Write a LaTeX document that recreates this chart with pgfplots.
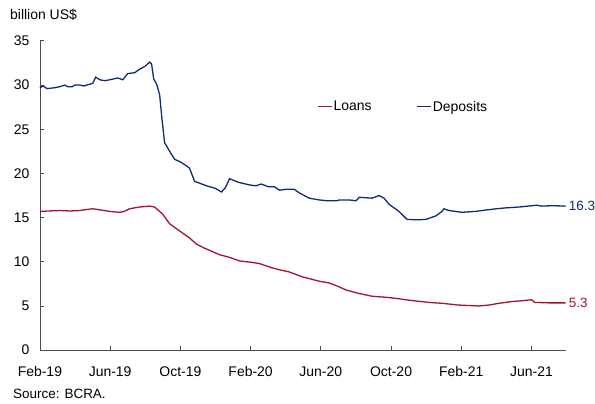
\documentclass[border=0pt]{standalone}
\usepackage{pgfplots}
\pgfplotsset{compat=1.18}
\usepackage{fontspec}
\setmainfont{Liberation Sans}
\definecolor{navy}{HTML}{0F2D6E}
\definecolor{crim}{HTML}{A3142F}
\begin{document}
\begin{tikzpicture}
\begin{axis}[
  scale only axis, width=527pt, height=310pt,
  xmin=0, xmax=29.94, ymin=0, ymax=35,
  clip=false,
  axis x line=bottom, axis y line=left,
  axis line style={-, draw=black!70, line width=0.8pt},
  tick align=inside, major tick length=4pt,
  tick style={draw=black!70, line width=0.8pt},
  xtick={0,4,...,28},
  xticklabels={Feb-19,Jun-19,Oct-19,Feb-20,Jun-20,Oct-20,Feb-21,Jun-21},
  ytick={0,5,...,35},
  ticklabel style={font=\fontsize{14}{16}\selectfont},
  xticklabel style={yshift=-13pt},
  yticklabel style={xshift=-7pt},
  /pgf/number format/assume math mode=true,
  legend columns=2,
  legend style={at={(rel axis cs:0.5275,0.787)}, anchor=west, draw=none, fill=none,
    font=\fontsize{14}{16}\selectfont, inner sep=0pt,
    nodes={inner xsep=1pt},
    /tikz/every even column/.append style={column sep=44pt}},
  legend image code/.code={\draw[#1] (0pt,0pt) -- (14pt,0pt);},
]
\addplot[crim, line width=1.3pt] coordinates {
(0,15.7) (0.5,15.75) (1.14,15.8) (1.7,15.75) (2.27,15.8) (2.6,15.9) (3.01,16.0) (3.5,15.85) (3.98,15.7) (4.55,15.6) (4.8,15.7) (5.11,16.0) (5.68,16.2) (6.25,16.3) (6.53,16.2) (6.99,15.4) (7.39,14.3) (7.95,13.5) (8.52,12.7) (8.92,12.0) (9.3,11.6) (9.66,11.3) (10.23,10.8) (10.8,10.5) (11.36,10.1) (12.0,9.95) (12.5,9.8) (13.24,9.3) (13.64,9.1) (14.2,8.85) (14.94,8.3) (15.91,7.8) (16.48,7.6) (17.0,7.2) (17.44,6.8) (18.2,6.4) (18.92,6.1) (19.89,5.95) (20.5,5.8) (21.02,5.65) (22.16,5.4) (22.9,5.3) (23.86,5.1) (25.0,5.0) (25.57,5.1) (26.14,5.3) (26.88,5.5) (27.5,5.6) (28.01,5.7) (28.18,5.4) (29.0,5.35) (29.94,5.35)
};
\addlegendentry{Loans}
\addplot[navy, line width=1.3pt] coordinates {
(0,29.7) (0.2,29.9) (0.4,29.6) (0.85,29.7) (1.1,29.8) (1.42,30.0) (1.6,29.8) (1.82,29.8) (2.0,30.0) (2.27,30.0) (2.5,29.9) (2.84,30.1) (3.01,30.2) (3.18,30.9) (3.41,30.6) (3.7,30.5) (3.98,30.6) (4.43,30.8) (4.72,30.6) (5.0,31.3) (5.4,31.4) (5.68,31.8) (5.97,32.1) (6.25,32.6) (6.36,32.4) (6.48,30.7) (6.65,30.1) (6.82,28.9) (6.93,26.6) (7.1,23.5) (7.39,22.5) (7.67,21.6) (8.0,21.3) (8.24,21.0) (8.52,20.6) (8.81,19.1) (9.09,18.9) (9.49,18.6) (10.0,18.3) (10.34,17.9) (10.57,18.4) (10.8,19.4) (11.3,19.0) (11.93,18.7) (12.3,18.6) (12.61,18.8) (13.0,18.5) (13.35,18.5) (13.64,18.1) (14.0,18.2) (14.49,18.2) (14.77,17.8) (15.34,17.2) (15.91,17.0) (16.4,16.9) (16.88,16.9) (17.05,17.0) (17.61,17.0) (18.01,16.9) (18.18,17.3) (18.92,17.2) (19.32,17.5) (19.6,17.2) (19.89,16.5) (20.45,15.7) (20.91,14.8) (21.5,14.75) (21.99,14.8) (22.56,15.2) (22.9,15.7) (23.01,16.0) (23.3,15.8) (24.03,15.6) (24.8,15.7) (25.57,15.9) (26.0,16.0) (26.53,16.1) (27.3,16.2) (28.3,16.4) (28.58,16.3) (29.2,16.35) (29.94,16.3)
};
\addlegendentry{Deposits}
\node[anchor=west, inner sep=0pt, xshift=3pt, text=navy, font=\fontsize{13.5}{15}\selectfont] at (axis cs:29.94,16.3) {16.3};
\node[anchor=west, inner sep=0pt, xshift=3pt, text=crim, font=\fontsize{13.5}{15}\selectfont] at (axis cs:29.94,5.35) {5.3};
\node[anchor=west, inner sep=0pt, xshift=-30pt, yshift=26pt, font=\fontsize{14}{16}\selectfont] at (rel axis cs:0,1) {billion US\$};
\node[anchor=west, inner sep=0pt, xshift=-27pt, yshift=-44pt, font=\fontsize{13.5}{15}\selectfont] at (rel axis cs:0,0) {Source: BCRA.};
\path (rel axis cs:0,0) ++(-40pt,-54pt) rectangle ++(595pt,405pt);
\end{axis}
\end{tikzpicture}
\end{document}
